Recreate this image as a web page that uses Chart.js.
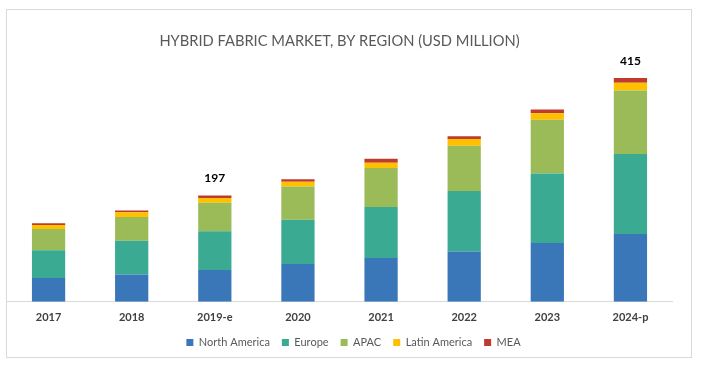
<!DOCTYPE html>
<html>
<head>
<meta charset="utf-8">
<script src="https://cdn.jsdelivr.net/npm/chart.js@4.4.1/dist/chart.umd.min.js"></script>
<style>
  html, body { margin: 0; padding: 0; background: #ffffff; }
  #wrap { position: relative; width: 701px; height: 367px; }
  #frame { position: absolute; left: 6px; top: 9px; width: 686px; height: 349px; border: 1px solid #D9D9D9; box-sizing: border-box; pointer-events: none; }
  canvas { position: absolute; left: 0; top: 0; }
</style>
</head>
<body>
<div id="wrap">
  <canvas id="c" width="701" height="367"></canvas>
  <div id="frame"></div>
</div>
<script>
const categories = ["2017", "2018", "2019-e", "2020", "2021", "2022", "2023", "2024-p"];
const northAmerica = [44.2, 50.4, 59.0, 70.3, 81.0, 93.3, 109.0, 125.7];
const europe       = [51.5, 62.8, 71.6, 82.0, 95.0, 112.0, 128.7, 148.5];
const apac         = [39.2, 44.0, 53.3, 61.5, 72.0, 84.0, 100.0, 117.5];
const latinAmerica = [7.5, 8.7, 8.7, 8.6, 10.0, 12.5, 12.0, 14.4];
const mea          = [3.2, 3.2, 4.3, 5.0, 7.5, 5.0, 6.7, 8.9];
const totalLabels  = ["", "", "197", "", "", "", "", "415"];

const FONT = "Lato, 'Open Sans', 'Liberation Sans', sans-serif";

const totalsPlugin = {
  id: 'totals',
  afterDatasetsDraw(chart) {
    const ctx = chart.ctx;
    const last = chart.getDatasetMeta(chart.data.datasets.length - 1);
    ctx.save();
    ctx.font = "bold 12px " + FONT;
    ctx.fillStyle = "#000000";
    ctx.textAlign = "center";
    ctx.textBaseline = "middle";
    totalLabels.forEach((t, i) => {
      if (!t) return;
      const bar = last.data[i];
      ctx.fillText(t, bar.x, bar.y - 17);
    });
    ctx.restore();
  }
};

const shiftLegend = {
  id: 'shiftLegend',
  afterLayout(chart) {
    const lg = chart.legend;
    if (lg) {
      lg.left += 14; lg.right += 14;
      lg.top -= 8; lg.bottom -= 8;
    }
  }
};

new Chart(document.getElementById('c'), {
  type: 'bar',
  data: {
    labels: categories,
    datasets: [
      { label: 'North America', data: northAmerica, backgroundColor: '#3A77B9' },
      { label: 'Europe', data: europe, backgroundColor: '#3AAA93' },
      { label: 'APAC', data: apac, backgroundColor: '#9BBB59' },
      { label: 'Latin America', data: latinAmerica, backgroundColor: '#FFC000' },
      { label: 'MEA', data: mea, backgroundColor: '#BE3B2E' }
    ]
  },
  options: {
    responsive: false,
    animation: false,
    devicePixelRatio: 1,
    layout: { padding: { left: 7, right: 29, top: 24, bottom: 1 } },
    datasets: { bar: { categoryPercentage: 1.0, barPercentage: 0.4, borderWidth: 0 } },
    scales: {
      x: {
        stacked: true,
        grid: { display: false, drawTicks: false },
        border: { display: true, color: '#D9D9D9', width: 1 },
        ticks: { color: '#404040', font: { family: FONT, size: 11, weight: 'bold' }, padding: 9 }
      },
      y: {
        stacked: true,
        display: false,
        min: 0,
        max: 450
      }
    },
    plugins: {
      title: {
        display: true,
        text: 'HYBRID FABRIC MARKET, BY REGION (USD MILLION)',
        color: '#595959',
        font: { family: FONT, size: 14.7, weight: 'normal' },
        padding: { top: 8.5, bottom: 9 }
      },
      legend: {
        position: 'bottom',
        labels: {
          boxWidth: 7, boxHeight: 7,
          color: '#595959',
          font: { family: FONT, size: 11 },
          padding: 12
        }
      },
      tooltip: { enabled: false }
    }
  },
  plugins: [totalsPlugin, shiftLegend]
});
</script>
</body>
</html>
